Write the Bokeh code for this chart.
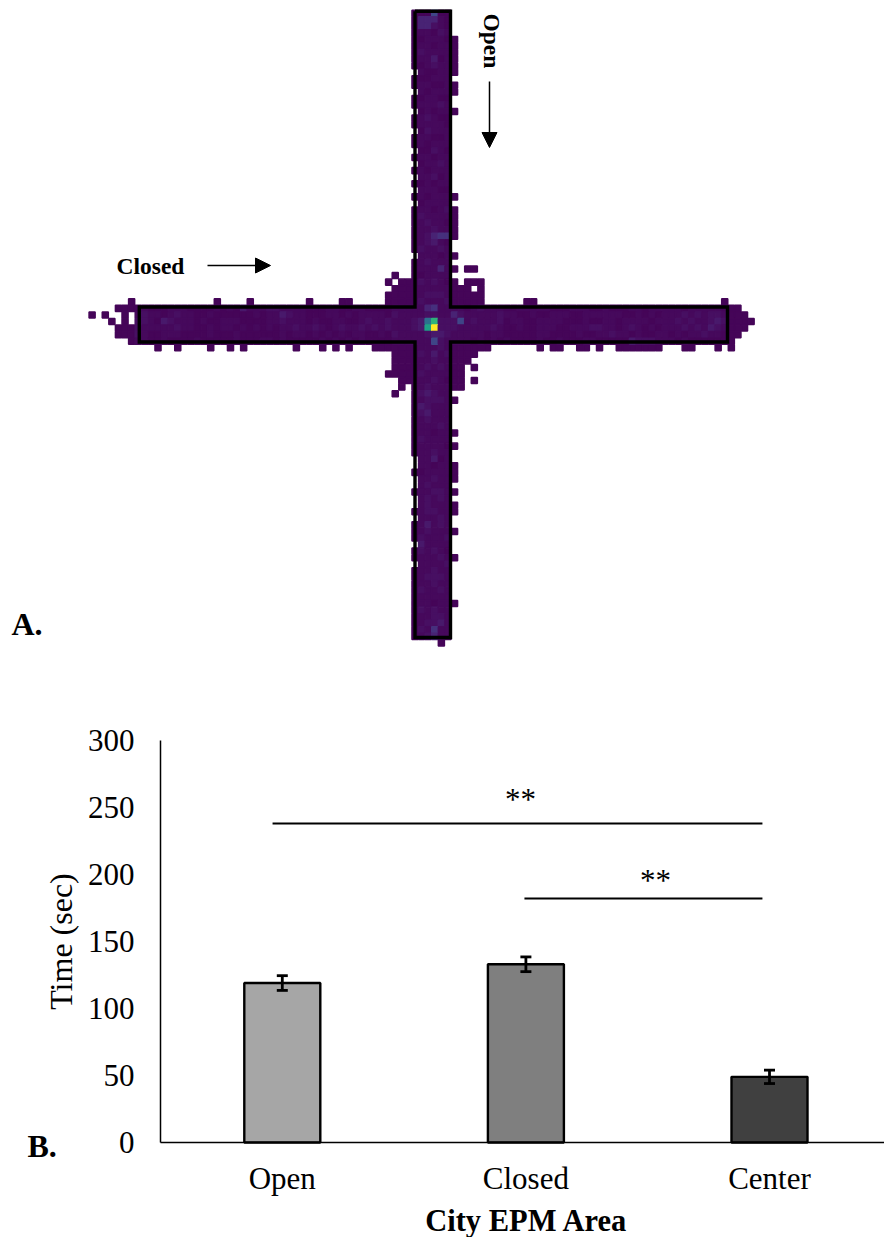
import math
from bokeh.plotting import figure
from bokeh.models import Range1d, Label, Arrow, NormalHead, ColumnDataSource, FixedTicker, Whisker, TeeHead, LinearColorMapper
from bokeh.palettes import Viridis256
from bokeh.embed import file_html
from bokeh.resources import INLINE

# ---------- panel A: occupancy heat map, cells ----------
LEVEL_VALUES = {"1": 0.5, "2": 1.3, "3": 2.5, "4": 4, "5": 7, "6": 10, "7": 14, "8": 21,
                "X": 37, "Y": 65, "W": 57, "V": 100}

# rows 0..44 / 51..95, columns 50..54
V_UPPER = ["22822", "66632", "66432", "33243", "23332", "33233", "43333", "33523", "23433", "32233",
           "22333", "33223", "32333", "23322", "33343", "23233", "34322", "33332", "24333", "33223",
           "32333", "22432", "33233", "23343", "32333", "33423", "23233", "33322", "32333", "23333",
           "33234", "43333", "34332", "33433", "34677", "34532", "43343", "33323", "34333", "33363",
           "23333", "43432", "33333", "34443", "43334"]
V_LOWER = ["33343", "43534", "33433", "34343", "43333", "33432", "34333", "45433", "34443", "54333",
           "45333", "34333", "33343", "33233", "43333", "33332", "33433", "33523", "33233", "23333",
           "33433", "34333", "33443", "34343", "34333", "34433", "33343", "35343", "34333", "43334",
           "53333", "43432", "33343", "33334", "33433", "34443", "33433", "43343", "33333", "33233",
           "43433", "33443", "34453", "43733", "34633"]

# rows 45..50, columns 7..96
H_ROW_45 = "2322233322" "2232325333" "4433332223" "3223322223" "3333673333" "2343332233" "3332223332" "2322233233" "3332333332"
H_ROW_46 = "3433234332" "2322222232" "3354332223" "3232333324" "3333443364" "3333343322" "3223332233" "3333223232" "3334343443"
H_ROW_47 = "4432543332" "3223332222" "3343332322" "3322343343" "3345XY4448" "3433342332" "2333322232" "2332333323" "3343433454"
H_ROW_48 = "4333334332" "2323323232" "3233433432" "3433434343" "3345WV4443" "3333432232" "2333223334" "4332343232" "3334343543"
H_ROW_49 = "4322333222" "2322232222" "2232332323" "2323322324" "3333455433" "3332332222" "2332222322" "3343323223" "3232334332"
H_ROW_50 = "3322322223" "2222232223" "3232222232" "3232322223" "3333384333" "3232323222" "2322322233" "2222254443" "3323222222"

# column 49, rows where the left edge of the arm is empty
COL_49_GAPS = [9, 12, 15, 18, 21, 23, 25, 27, 29, 37, 68, 69, 71, 72, 74, 75, 77, 81, 84]
# column 55, rows that are occupied
COL_55_ROWS = [4, 5, 6, 7, 8, 9, 11, 12, 15, 28, 30, 31, 32, 33, 34, 37, 39, 41, 42, 43, 44,
               51, 52, 53, 54, 55, 56, 57, 59, 64, 66, 69, 70, 71, 73, 75, 76, 79, 83, 90]
# scattered occupied cells outside the arms: row -> columns
STRAY_CELLS = {
    39: [57, 58],
    40: [46],
    41: [45, 47, 48, 57, 58, 59],
    42: [46, 47, 48, 56, 57, 59],
    43: [45, 46, 47, 48, 56, 57, 58, 59],
    44: [6, 19, 24, 33, 38, 39, 45, 46, 47, 48, 56, 57, 58, 59, 66, 67, 96],
    45: [4, 5, 6, 97, 98],
    46: [0, 2, 5, 97, 98, 99],
    47: [3, 5, 97, 98, 99, 100],
    48: [4, 5, 6, 97, 98, 99],
    49: [4, 5, 6, 97, 98],
    50: [6, 97],
    51: [10, 13, 18, 21, 23, 31, 35, 37, 39, 43, 44, 45, 46, 47, 48, 56, 57, 58, 59, 60, 68, 70, 71,
         74, 75, 77, 80, 81, 82, 83, 84, 85, 86, 90, 91, 95, 97],
    52: [46, 47, 48, 56, 57, 58],
    53: [46, 47, 48, 56, 57],
    54: [46, 47, 48, 56, 58],
    55: [45, 46, 47, 48, 56],
    56: [47, 48, 56, 58],
    57: [47, 56],
    58: [46],
    96: [53],
}

# ---------- panel B: bar chart ----------
CATEGORIES = ["Open", "Closed", "Center"]
TIME_SEC = [119, 133, 49]
TIME_ERR = [5.5, 5.5, 5]
BAR_COLORS = ["#a6a6a6", "#7f7f7f", "#404040"]
Y_TICKS = [0, 50, 100, 150, 200, 250, 300]
SIG_LEVELS = [238, 182]
SIG_STARTS = [0.46, 1.494]
SIG_END = 2.471

FONT = "Liberation Serif"

cols, rows, vals = [], [], []
def add(c, r, ch):
    cols.append(c); rows.append(r); vals.append(LEVEL_VALUES[ch])

for r in list(range(0, 45)) + list(range(51, 96)):
    if r not in COL_49_GAPS:
        add(49, r, "2")
for r in COL_55_ROWS:
    add(55, r, "2")
for r, cs in STRAY_CELLS.items():
    for c in cs:
        add(c, r, "2")
for r, s in enumerate(V_UPPER):
    for i, ch in enumerate(s):
        add(50 + i, r, ch)
for r, s in enumerate(V_LOWER):
    for i, ch in enumerate(s):
        add(50 + i, 51 + r, ch)
for r, s in zip(range(45, 51), [H_ROW_45, H_ROW_46, H_ROW_47, H_ROW_48, H_ROW_49, H_ROW_50]):
    for i, ch in enumerate(s):
        add(7 + i, r, ch)

# page pixel -> cell coordinates of panel A
X0, PX, Y0, PY = 88.3, 6.59, 9.4, 6.56
def ax(px): return (px - X0) / PX
def ay(py): return (py - Y0) / PY

TOP_H = 688
top = figure(width=884, height=TOP_H, output_backend="svg", toolbar_location=None,
             x_range=Range1d(ax(0), ax(884)), y_range=Range1d(ay(TOP_H), ay(0)),
             min_border=0, outline_line_color=None, background_fill_color="white")
top.axis.visible = False
top.grid.visible = False

mapper = LinearColorMapper(palette=Viridis256, low=0, high=100)
src = ColumnDataSource(dict(x=[c + 0.5 for c in cols], y=[r + 0.5 for r in rows], v=vals))
top.rect("x", "y", width=0.92, height=0.92, source=src,
         fill_color={"field": "v", "transform": mapper},
         line_color={"field": "v", "transform": mapper}, line_width=1.5)

# maze outline
xl, xr, xa, xb = ax(414.5), ax(450), ax(138.8), ax(727)
yt, yb, ya, yc = ay(10.8), ay(637), ay(306.5), ay(341.5)
top.line([xl, xr, xr, xb, xb, xr, xr, xl, xl, xa, xa, xl, xl],
         [yt, yt, ya, ya, yc, yc, yb, yb, yc, yc, ya, ya, yt],
         line_color="black", line_width=3.4, line_join="miter")

top.add_layout(Label(x=ax(116), y=ay(265), text="Closed", text_font=FONT, text_font_style="bold",
                     text_font_size="23.5px", text_baseline="middle", text_color="black"))
top.add_layout(Label(x=ax(491), y=ay(13), text="Open", text_font=FONT, text_font_style="bold",
                     text_font_size="23.5px", text_baseline="middle", text_align="left",
                     angle=-math.pi / 2, text_color="black"))
top.add_layout(Label(x=ax(11), y=ay(641), text="A.", text_font=FONT, text_font_style="bold",
                     text_font_size="32px", text_baseline="bottom", text_color="black"))
top.add_layout(Arrow(end=NormalHead(size=15, fill_color="black", line_color="black"),
                     x_start=ax(207), y_start=ay(265), x_end=ax(270), y_end=ay(265),
                     line_width=1.5, line_color="black"))
top.add_layout(Arrow(end=NormalHead(size=15, fill_color="black", line_color="black"),
                     x_start=ax(489), y_start=ay(81), x_end=ax(489), y_end=ay(147),
                     line_width=1.5, line_color="black"))

# ---------- bar chart: the frame fills the figure, axes sit at fixed locations ----------
BOT_H = 1237 - TOP_H
BAND = 243.6
PXY = 402 / 300
bot = figure(width=884, height=BOT_H, output_backend="svg", toolbar_location=None,
             x_range=Range1d(-160 / BAND, 724 / BAND),
             y_range=Range1d(-(1237 - 1142) / PXY, 300 + (740 - TOP_H) / PXY),
             min_border=0, outline_line_color=None, background_fill_color="white")
bot.grid.visible = False
centers = [0.5, 1.5, 2.5]
bot.vbar(x=centers, top=TIME_SEC, bottom=0, width=76 / BAND, fill_color=BAR_COLORS,
         line_color="black", line_width=2.4)

err_src = ColumnDataSource(dict(x=centers, lo=[v - e for v, e in zip(TIME_SEC, TIME_ERR)],
                                hi=[v + e for v, e in zip(TIME_SEC, TIME_ERR)]))
bot.add_layout(Whisker(base="x", lower="lo", upper="hi", source=err_src, line_width=2.8,
                       level="annotation",
                       upper_head=TeeHead(size=11, line_width=2.8),
                       lower_head=TeeHead(size=11, line_width=2.8)))
for s, lv in zip(SIG_STARTS, SIG_LEVELS):
    bot.line([s, SIG_END], [lv, lv], line_color="black", line_width=2)

bot.xaxis.ticker = FixedTicker(ticks=centers)
bot.xaxis.major_label_overrides = dict(zip(centers, CATEGORIES))
bot.yaxis.ticker = FixedTicker(ticks=Y_TICKS)
bot.xaxis.fixed_location = 0
bot.yaxis.fixed_location = 0
bot.xaxis.bounds = (0, 724 / BAND)
bot.yaxis.bounds = (0, 300)
for a in (bot.xaxis[0], bot.yaxis[0]):
    a.major_tick_line_color = None
    a.minor_tick_line_color = None
    a.axis_line_color = "black"
    a.axis_line_width = 1.5
    a.major_label_text_font = FONT
    a.major_label_text_font_size = "31px"
    a.major_label_text_color = "black"
bot.xaxis.major_label_standoff = 12
bot.yaxis.axis_label = "Time (sec)"
bot.yaxis.axis_label_text_color = "black"
bot.yaxis.axis_label_text_font = FONT
bot.yaxis.axis_label_text_font_size = "32px"
bot.yaxis.axis_label_text_font_style = "normal"
bot.yaxis.major_label_standoff = 20
bot.yaxis.axis_label_standoff = 6

bot.add_layout(Label(x=(526 - 160) / BAND, y=(1142 - 1220.5) / PXY, text="City EPM Area", text_font=FONT,
                     text_font_style="bold", text_font_size="30.5px", text_align="center",
                     text_baseline="middle", text_color="black"))
bot.add_layout(Label(x=(520 - 160) / BAND, y=(1142 - 816) / PXY, text="**", text_font=FONT,
                     text_font_size="31px", text_align="center", text_color="black"))
bot.add_layout(Label(x=(655 - 160) / BAND, y=(1142 - 897) / PXY, text="**", text_font=FONT,
                     text_font_size="31px", text_align="center", text_color="black"))
bot.add_layout(Label(x=(27 - 160) / BAND, y=(1142 - 1163) / PXY, text="B.", text_font=FONT,
                     text_font_style="bold", text_font_size="32px", text_color="black"))

open("out.html", "w").write(file_html([top, bot], INLINE))
